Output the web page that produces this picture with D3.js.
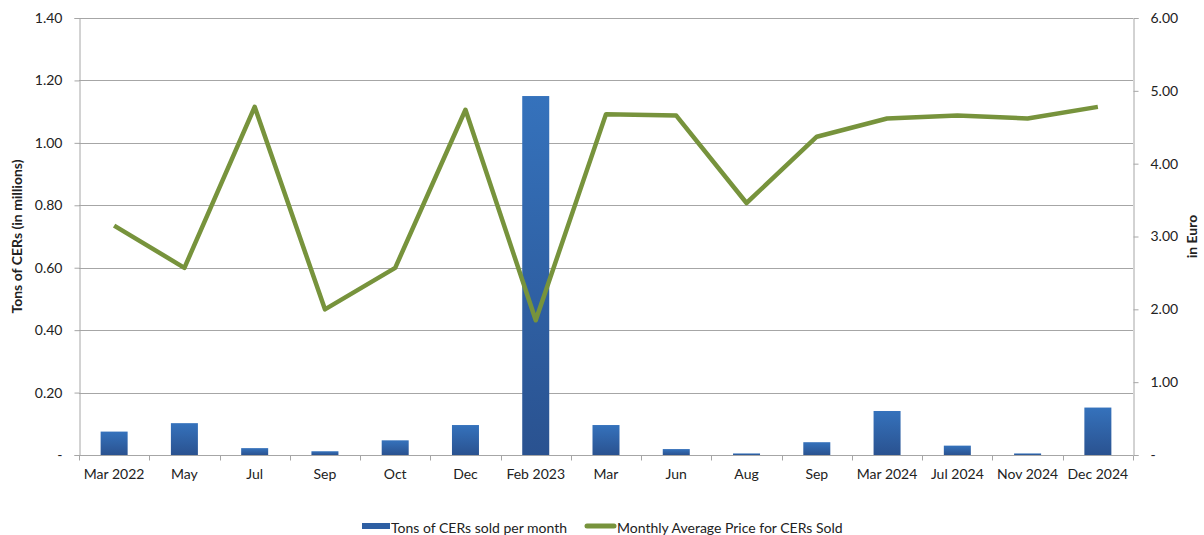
<!DOCTYPE html>
<html>
<head>
<meta charset="utf-8">
<script src="https://cdn.jsdelivr.net/npm/d3@7"></script>
<style>
  body { margin: 0; background: #fff; }
  text { font-family: Lato, "Open Sans", sans-serif; fill: #222; }
</style>
</head>
<body>
<svg id="chart" width="1204" height="535"></svg>
<script>
// ---------- data ----------
const categories = ["Mar 2022", "May", "Jul", "Sep", "Oct", "Dec", "Feb 2023", "Mar", "Jun", "Aug", "Sep ", "Mar 2024", "Jul 2024", "Nov 2024", "Dec 2024"];
const tons = [0.075, 0.102, 0.022, 0.012, 0.047, 0.096, 1.15, 0.096, 0.019, 0.005, 0.041, 0.141, 0.030, 0.005, 0.152];
const price = [3.15, 2.57, 4.78, 2.00, 2.57, 4.74, 1.85, 4.68, 4.66, 3.46, 4.37, 4.62, 4.66, 4.62, 4.78];
const leftTicks = [0, 0.2, 0.4, 0.6, 0.8, 1.0, 1.2, 1.4];
const rightTicks = [0, 1, 2, 3, 4, 5, 6];

const svg = d3.select("#chart");
const margin = { top: 18, right: 71, bottom: 80, left: 79 };
const W = 1204, H = 535;
const x0 = margin.left, x1 = W - margin.right;
const y0 = H - margin.bottom, y1 = margin.top;
const fs = 14;

const x = d3.scaleBand().domain(categories).range([x0, x1]).paddingInner(0).paddingOuter(0);
const yL = d3.scaleLinear().domain([0, 1.4]).range([y0, y1]);
const yR = d3.scaleLinear().domain([0, 6]).range([y0, y1]);

const axisColor = "#a6a6a6";
const fmtTick = (v) => v === 0 ? "-" : d3.format(".2f")(v);

// gridlines
svg.append("g").selectAll("line")
  .data(leftTicks.filter(d => d > 0))
  .join("line")
  .attr("x1", x0).attr("x2", x1)
  .attr("y1", d => Math.round(yL(d)) + 0.5).attr("y2", d => Math.round(yL(d)) + 0.5)
  .attr("stroke", axisColor).attr("stroke-width", 1);

// gradient for bars
const defs = svg.append("defs");
const grad = defs.append("linearGradient").attr("id", "barGrad")
  .attr("x1", 0).attr("y1", 0).attr("x2", 0).attr("y2", 1);
grad.append("stop").attr("offset", "0%").attr("stop-color", "#3572bc");
grad.append("stop").attr("offset", "100%").attr("stop-color", "#2a5290");

// bars
const barW = 27;
svg.append("g").selectAll("rect")
  .data(tons)
  .join("rect")
  .attr("x", (d, i) => x(categories[i]) + x.bandwidth() / 2 - barW / 2)
  .attr("y", d => yL(d))
  .attr("width", barW)
  .attr("height", d => y0 - yL(d))
  .attr("fill", "url(#barGrad)");

// left axis
const gL = svg.append("g").attr("transform", `translate(${x0 + 0.5},0)`)
  .call(d3.axisLeft(yL).tickValues(leftTicks).tickFormat(fmtTick).tickSize(5).tickPadding(12));
gL.select(".domain").attr("stroke", axisColor);
gL.selectAll(".tick line").attr("stroke", axisColor);
gL.selectAll(".tick text").attr("font-size", fs).attr("fill", "#222")
  .style("font-family", "Lato, 'Open Sans', sans-serif");

// right axis
const gR = svg.append("g").attr("transform", `translate(${x1 + 0.5},0)`)
  .call(d3.axisRight(yR).tickValues(rightTicks).tickFormat(fmtTick).tickSize(5).tickPadding(12));
gR.select(".domain").attr("stroke", axisColor);
gR.selectAll(".tick line").attr("stroke", axisColor);
gR.selectAll(".tick text").attr("font-size", fs).attr("fill", "#222")
  .style("font-family", "Lato, 'Open Sans', sans-serif");

// bottom axis (ticks at category boundaries)
const gB = svg.append("g").attr("transform", `translate(0,${y0 + 0.5})`);
gB.append("line").attr("x1", x0).attr("x2", x1).attr("stroke", axisColor);
gB.selectAll("line.tk")
  .data(categories.concat(["__end"]))
  .join("line")
  .attr("class", "tk")
  .attr("x1", (d, i) => Math.round(x0 + i * x.bandwidth()) + 0.5)
  .attr("x2", (d, i) => Math.round(x0 + i * x.bandwidth()) + 0.5)
  .attr("y1", 0).attr("y2", 5)
  .attr("stroke", axisColor);
gB.selectAll("text")
  .data(categories)
  .join("text")
  .attr("x", d => x(d) + x.bandwidth() / 2)
  .attr("y", 23)
  .attr("text-anchor", "middle")
  .attr("font-size", fs)
  .text(d => d.trim());

// price line
const line = d3.line()
  .x((d, i) => x(categories[i]) + x.bandwidth() / 2)
  .y(d => yR(d));
svg.append("path")
  .datum(price)
  .attr("d", line)
  .attr("fill", "none")
  .attr("stroke", "#77933c")
  .attr("stroke-width", 4.5)
  .attr("stroke-linejoin", "round");

// axis titles
svg.append("text")
  .attr("transform", `translate(22,${(y0 + y1) / 2}) rotate(-90)`)
  .attr("text-anchor", "middle")
  .attr("font-size", fs).attr("font-weight", "bold")
  .text("Tons of CERs (in  millions)");
svg.append("text")
  .attr("transform", `translate(1197,${(y0 + y1) / 2}) rotate(-90)`)
  .attr("text-anchor", "middle")
  .attr("font-size", fs).attr("font-weight", "bold")
  .text("in Euro");

// legend
const lg = svg.append("g").attr("transform", "translate(0,528)");
lg.append("rect").attr("x", 362).attr("y", -5).attr("width", 28).attr("height", 6).attr("fill", "#2e5fa3");
lg.append("text").attr("x", 391).attr("y", 5).attr("font-size", fs).text("Tons of CERs sold per month");
lg.append("line").attr("x1", 587).attr("x2", 614).attr("y1", -2).attr("y2", -2)
  .attr("stroke", "#77933c").attr("stroke-width", 5).attr("stroke-linecap", "round");
lg.append("text").attr("x", 617).attr("y", 5).attr("font-size", fs).text("Monthly Average Price for CERs Sold");
</script>
</body>
</html>
